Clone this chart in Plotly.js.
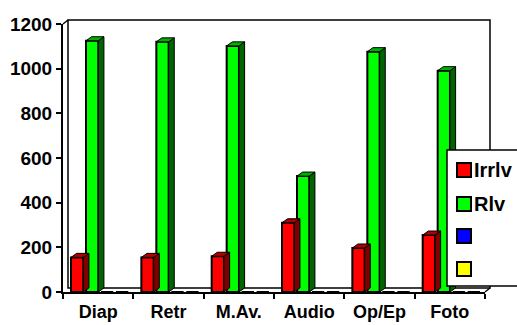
<!DOCTYPE html>
<html><head><meta charset="utf-8">
<script src="https://cdn.plot.ly/plotly-3.0.1.min.js"></script>
<style>html,body{margin:0;padding:0;background:#fff}#c{width:517px;height:325px}</style>
</head><body><div id="c"></div>
<script>
const categories = ["Diap", "Retr", "M.Av.", "Audio", "Op/Ep", "Foto"];
const irrlv = [155, 155, 160, 310, 197, 255];
const rlv = [1125, 1120, 1102, 519, 1076, 991];
const blue = [0, 0, 0, 0, 0, 0];
const yellow = [0, 0, 0, 0, 0, 0];
const seriesNames = ["Irrlv", "Rlv", "", ""];
const yTicks = [0, 200, 400, 600, 800, 1000, 1200];

const series = [irrlv, rlv, blue, yellow];
const fronts = ["#ff0000", "#00ff00", "#0000ff", "#ffff00"];
const sides = ["#800000", "#006400", "#000080", "#808000"];
const tops = ["#b00000", "#00b000", "#0000b0", "#b0b000"];

const slot = 0.213, barW = 0.175, start = -0.386;
const dx = 0.08, dy = 18;

const traces = series.map((vals, j) => ({
  type: "bar", x: categories, y: vals, name: seriesNames[j],
  width: barW, offset: start + j * slot,
  marker: {color: fronts[j], line: {color: "#000", width: 2}},
  hoverinfo: "skip", showlegend: false
}));

const shapes = [];
const ox = 5 / 422, oy = 4 / 268;
shapes.push(
  {type: "rect", xref: "paper", yref: "paper", x0: ox, y0: oy, x1: 1 + ox, y1: 1 + oy, line: {color: "#000", width: 1.5}, layer: "below"},
  {type: "line", xref: "paper", yref: "paper", x0: 0, y0: 1, x1: ox, y1: 1 + oy, line: {color: "#000", width: 1.5}},
  {type: "line", xref: "paper", yref: "paper", x0: 1, y0: 0, x1: 1 + ox, y1: oy, line: {color: "#000", width: 1.5}}
);
series.forEach((vals, j) => {
  vals.forEach((v, i) => {
    if (v <= 0) return;
    const x0 = i + start + j * slot, x1 = x0 + barW;
    shapes.push({type: "path", xref: "x", yref: "y", layer: "above",
      path: `M${x1},0 L${x1 + dx},${dy} L${x1 + dx},${v + dy} L${x1},${v} Z`,
      fillcolor: sides[j], line: {color: "#000", width: 1}});
    shapes.push({type: "path", xref: "x", yref: "y", layer: "above",
      path: `M${x0},${v} L${x0 + dx},${v + dy} L${x1 + dx},${v + dy} L${x1},${v} Z`,
      fillcolor: tops[j], line: {color: "#000", width: 1}});
  });
});

const F = "Liberation Sans, Arial, sans-serif";
const px = p => (p - 63) / 422, py = p => (292 - p) / 268;
shapes.push({type: "rect", xref: "paper", yref: "paper", layer: "above",
  x0: px(447), x1: px(540), y0: py(286), y1: py(150),
  fillcolor: "#fff", line: {color: "#000", width: 1.5}});
const legY = [170, 204, 236, 269];
const annotations = [];
legY.forEach((yc, j) => {
  shapes.push({type: "rect", xref: "paper", yref: "paper", layer: "above",
    x0: px(457), x1: px(471), y0: py(yc + 7), y1: py(yc - 7),
    fillcolor: fronts[j], line: {color: "#000", width: 2}});
  if (seriesNames[j]) annotations.push({xref: "paper", yref: "paper", x: px(472), y: py(yc),
    xanchor: "left", yanchor: "middle", showarrow: false, text: seriesNames[j],
    font: {family: F, size: 20, weight: "bold", color: "#000"}});
});

const layout = {
  width: 517, height: 325,
  margin: {l: 63, r: 32, t: 24, b: 33},
  paper_bgcolor: "#fff", plot_bgcolor: "rgba(0,0,0,0)",
  barmode: "overlay",
  font: {family: F, color: "#000"},
  xaxis: {type: "category", range: [-0.5, 5.5], showline: true, linecolor: "#000", linewidth: 2,
    ticks: "outside", tickson: "boundaries", ticklen: 5, tickwidth: 2, tickcolor: "#000",
    showgrid: false, zeroline: false, ticklabelstandoff: 2,
    tickfont: {family: F, size: 18, weight: "bold", color: "#000"}},
  yaxis: {range: [0, 1200], tickvals: yTicks, showline: true, linecolor: "#000", linewidth: 2,
    ticks: "outside", ticklen: 5, tickwidth: 2, tickcolor: "#000",
    showgrid: false, zeroline: false,
    tickfont: {family: F, size: 19, weight: "bold", color: "#000"}},
  showlegend: false,
  shapes: shapes, annotations: annotations
};
Plotly.newPlot("c", traces, layout, {displayModeBar: false, staticPlot: true});
</script></body></html>
